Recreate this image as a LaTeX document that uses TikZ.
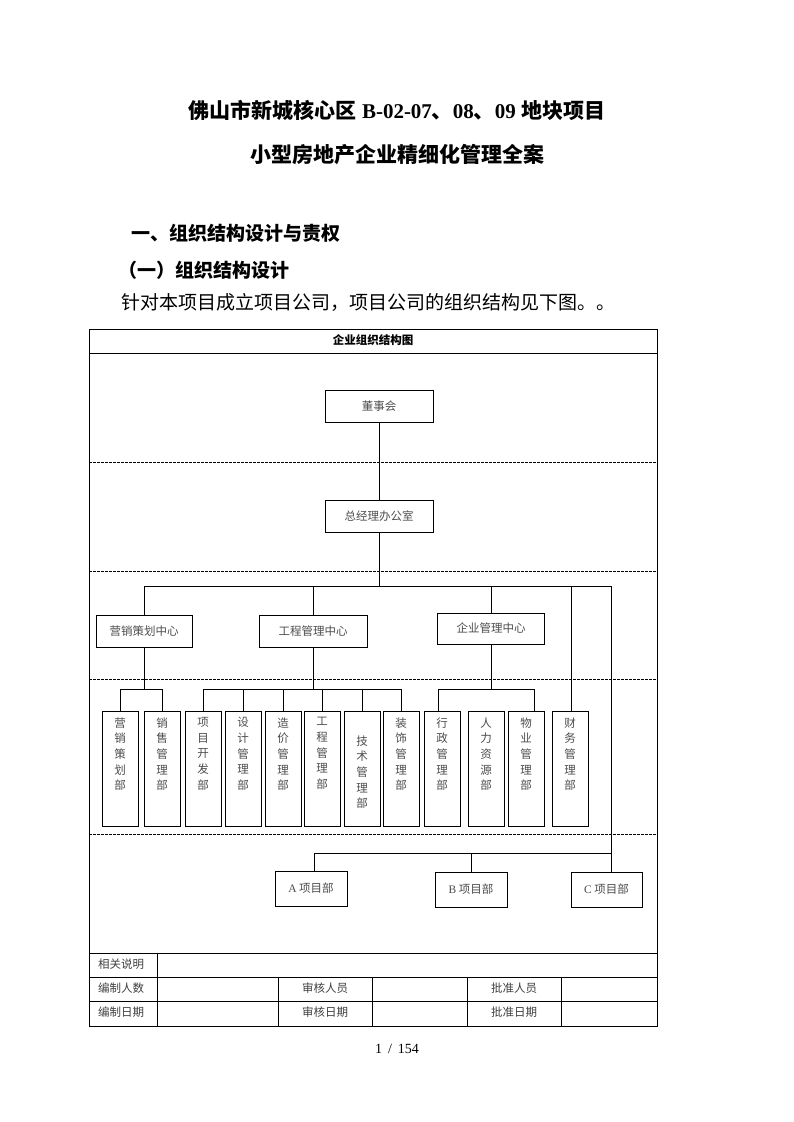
\documentclass[tikz,border=0pt]{standalone}
\usepackage{fontspec}
\setmainfont{Liberation Serif}
\newfontfamily\cjk{Noto Sans CJK SC}
\usepackage{tikz}
\newcommand{\vtext}[1]{\parbox[t][103pt][t]{20pt}{\centering #1}}

\begin{document}
\begin{tikzpicture}[x=1pt,y=-1pt,
        box/.style={rectangle,draw,line width=0.8pt,minimum height=32pt,
                    inner sep=0pt,text=black!70,
                    font=\cjk\fontsize{11.5}{12}\selectfont},
        dept/.style={rectangle,draw,line width=0.8pt,minimum width=36pt,
                     inner xsep=0pt,inner ysep=6pt,anchor=north,text=black!70,
                     font=\cjk\fontsize{11.5}{15.7}\selectfont},
        cell/.style={inner sep=0pt,text=black!75,
                     font=\cjk\fontsize{11.5}{12}\selectfont},
        sep/.style={line width=0.7pt,dash pattern=on 2.5pt off 1.5pt},
        link/.style={line width=0.8pt}]
      \fill[white] (0,0) rectangle (793,1122);
      \useasboundingbox (0,0) rectangle (793,1122);

      % page text
      \node[font=\cjk\bfseries\fontsize{21}{21}\selectfont] (title1) at (397,110)
        {佛山市新城核心区\hspace{6pt}{\rmfamily B-02-07}、{\rmfamily 08}、{\rmfamily 09}\hspace{6pt}地块项目};
      \node[font=\cjk\bfseries\fontsize{21}{21}\selectfont] (title2) at (397,155)
        {小型房地产企业精细化管理全案};
      \node[anchor=west,inner sep=0pt,font=\cjk\bfseries\fontsize{19}{19}\selectfont]
        (sec1) at (131,233) {一、组织结构设计与责权};
      \node[anchor=west,inner sep=0pt,font=\cjk\bfseries\fontsize{19}{19}\selectfont]
        (sec11) at (118,270) {（一）组织结构设计};
      \node[anchor=west,inner sep=0pt,font=\cjk\fontsize{19}{19}\selectfont]
        (intro) at (121,302) {针对本项目成立项目公司，项目公司的组织结构见下图。。};

      % chart frame
      \draw[line width=0.8pt] (89,329) rectangle (657,1026);
      \draw[line width=0.8pt] (89,353) -- (657,353);
      \draw[sep] (89,462) -- (657,462);
      \draw[sep] (89,571) -- (657,571);
      \draw[sep] (89,679) -- (657,679);
      \draw[sep] (89,834) -- (657,834);
      \draw[line width=0.8pt] (89,953) -- (657,953);
      \draw[line width=0.8pt] (89,977) -- (657,977);
      \draw[line width=0.8pt] (89,1001) -- (657,1001);
      \draw[line width=0.8pt] (157,953) -- (157,1026);
      \draw[line width=0.8pt] (278,977) -- (278,1026);
      \draw[line width=0.8pt] (372,977) -- (372,1026);
      \draw[line width=0.8pt] (467,977) -- (467,1026);
      \draw[line width=0.8pt] (561,977) -- (561,1026);
      \node[cell,text=black,font=\cjk\bfseries\fontsize{11.5}{12}\selectfont]
        (charttitle) at (373,340) {企业组织结构图};

      % levels
      \node[box,minimum width=108pt] (board) at (379,406) {董事会};
      \node[box,minimum width=108pt] (gm)    at (379,516) {总经理办公室};
      \node[box,minimum width=96pt]  (mkt)   at (144,631) {营销策划中心};
      \node[box,minimum width=108pt] (eng)   at (313,631) {工程管理中心};
      \node[box,minimum width=107pt,minimum height=31pt] (ent) at (491,628.5) {企业管理中心};

      % departments
      \node[dept] (mktplan) at (120,711) {\vtext{营\\销\\策\\划\\部}};
      \node[dept] (sales)   at (162,711) {\vtext{销\\售\\管\\理\\部}};
      \node[dept] (dev)     at (203,711) {\vtext{项\\目\\开\\发\\部}};
      \node[dept] (design)  at (243,711) {\vtext{设\\计\\管\\理\\部}};
      \node[dept] (cost)    at (283,711) {\vtext{造\\价\\管\\理\\部}};
      \node[dept] (works)   at (322,711) {\vtext{工\\程\\管\\理\\部}};
      \node[dept] (tech)    at (362,711) {\vtext{\vspace*{18pt}技\\术\\管\\理\\部}};
      \node[dept] (deco)    at (401,711) {\vtext{装\\饰\\管\\理\\部}};
      \node[dept] (admin)   at (442,711) {\vtext{行\\政\\管\\理\\部}};
      \node[dept] (hr)      at (486,711) {\vtext{人\\力\\资\\源\\部}};
      \node[dept] (prop)    at (526,711) {\vtext{物\\业\\管\\理\\部}};
      \node[dept] (fin)     at (570,711) {\vtext{财\\务\\管\\理\\部}};

      % project offices
      \node[box,minimum width=72pt,minimum height=35pt] (prja) at (311,888.5) {{\rmfamily A} 项目部};
      \node[box,minimum width=72pt,minimum height=35pt] (prjb) at (471,889.5) {{\rmfamily B} 项目部};
      \node[box,minimum width=71pt,minimum height=35pt] (prjc) at (606.5,889.5) {{\rmfamily C} 项目部};

      % connectors
      \coordinate (busL) at (144,586);
      \coordinate (busR) at (611,586);
      \coordinate (finT) at (571,586);
      \draw[link] (board) -- (gm);
      \draw[link] (gm) -- (gm |- busL);
      \draw[link] (busL) -- (busR);
      \draw[link] (busL) -- (mkt);
      \draw[link] (eng |- busL) -- (eng);
      \draw[link] (ent |- busL) -- (ent);
      \draw[link] (finT) -- (finT |- fin.north);

      \coordinate (mktL) at (120,689);
      \coordinate (mktR) at (162,689);
      \draw[link] (mkt) -- (mkt |- mktL);
      \draw[link] (mktL) -- (mktR);
      \draw[link] (mktL) -- (mktplan);
      \draw[link] (mktR) -- (sales);

      \coordinate (engL) at (203,689);
      \coordinate (engR) at (401,689);
      \draw[link] (eng) -- (eng |- engL);
      \draw[link] (engL) -- (engR);
      \draw[link] (engL) -- (dev);
      \draw[link] (design |- engL) -- (design);
      \draw[link] (cost |- engL) -- (cost);
      \draw[link] (works |- engL) -- (works);
      \draw[link] (tech |- engL) -- (tech);
      \draw[link] (engR) -- (deco);

      \coordinate (entL) at (438,689);
      \coordinate (entR) at (534,689);
      \draw[link] (ent) -- (ent |- entL);
      \draw[link] (entL) -- (entR);
      \draw[link] (entL) -- (entL |- admin.north);
      \draw[link] (entR) -- (entR |- prop.north);

      \coordinate (prjL) at (314,853);
      \draw[link] (busR) -- (busR |- prjc.north);
      \draw[link] (prjL) -- (busR |- prjL);
      \draw[link] (prjL) -- (prjL |- prja.north);
      \draw[link] (prjb |- prjL) -- (prjb);

      % footer table
      \node[cell,anchor=west] (notes)    at (98,964)   {相关说明};
      \node[cell,anchor=west] (author)   at (98,988)   {编制人数};
      \node[cell,anchor=west] (authdate) at (98,1012)  {编制日期};
      \node[cell] (review)     at (325,988)  {审核人员};
      \node[cell] (reviewdate) at (325,1012) {审核日期};
      \node[cell] (approve)    at (514,988)  {批准人员};
      \node[cell] (approvedate) at (514,1012) {批准日期};

      \node[font=\rmfamily\fontsize{14}{14}\selectfont] (pageno) at (397,1049)
        {1\hspace{6pt}/\hspace{6pt}154};
    \end{tikzpicture}
\end{document}
